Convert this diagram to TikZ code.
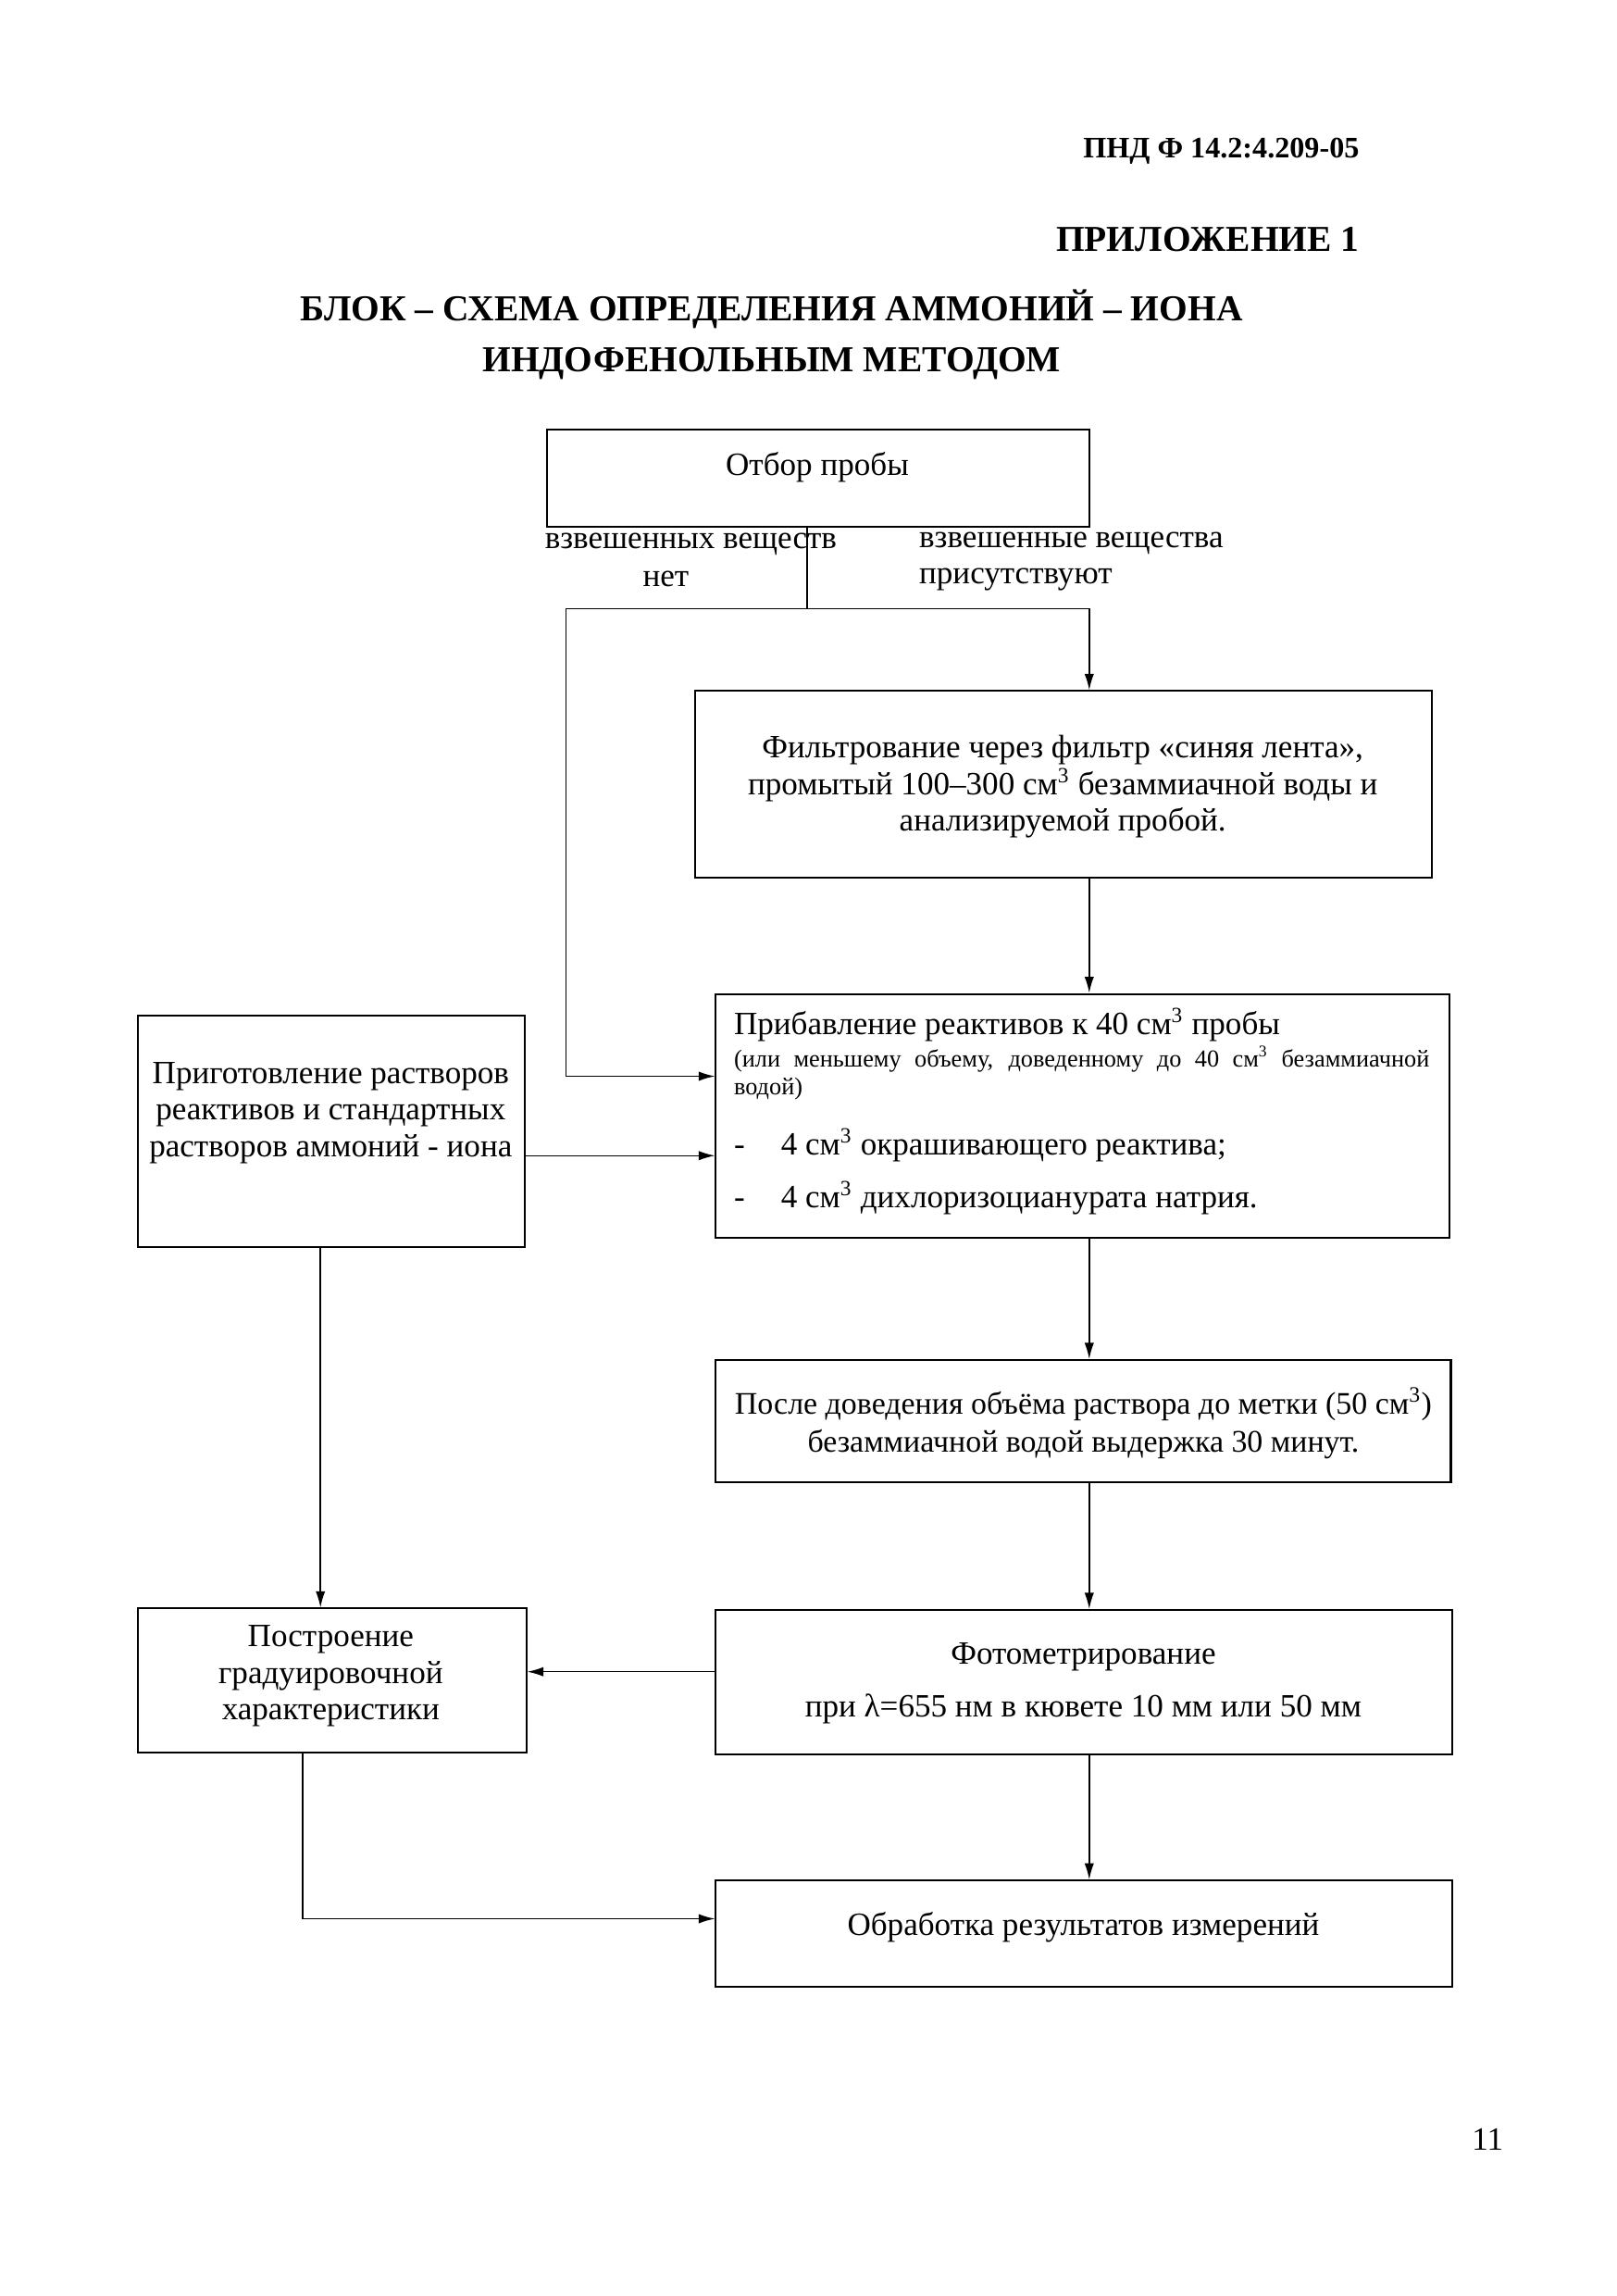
\documentclass[tikz,border=0pt]{standalone}
\usepackage{fontspec}
\setmainfont{Liberation Serif}
\usetikzlibrary{arrows.meta,fit}
\begin{document}
\begin{tikzpicture}[x=0.019091cm,y=-0.019091cm,
  box/.style={draw,line width=0.7pt,inner sep=0pt},
  txt/.style={font=\fontsize{12}{13.5}\selectfont,align=center,inner sep=0pt},
  hdr/.style={font=\bfseries\fontsize{11}{13}\selectfont,inner sep=0pt},
  ttl/.style={font=\bfseries\fontsize{13.5}{16}\selectfont,inner sep=0pt},
  conn/.style={line width=0.5pt},
  arr/.style={conn,-{Latex[length=6pt,width=3.5pt]}}]
\useasboundingbox (0,0) rectangle (1100,1561.6);

% header
\node[hdr,anchor=east] (h1) at (925,103) {ПНД Ф 14.2:4.209-05};
\node[ttl,anchor=east] (h2) at (925,163) {ПРИЛОЖЕНИЕ 1};
\node[ttl] (h3) at (525,210) {БЛОК – СХЕМА ОПРЕДЕЛЕНИЯ АММОНИЙ – ИОНА};
\node[ttl] (h4) at (525,247) {ИНДОФЕНОЛЬНЫМ МЕТОДОМ};

% boxes
\node[box,fit={(372,292)(741,358)}] (b1) {};
\node[box,fit={(473,470)(974,597)}] (b2) {};
\node[box,fit={(487,676)(986,842)}] (b3) {};
\node[box,fit={(94,691)(357,848)}] (bl) {};
\node[box,fit={(487,925)(987,1008)}] (b4) {};
\node[box,fit={(487,1095)(988,1193)}] (b5) {};
\node[box,fit={(94,1094)(358,1192)}] (b6) {};
\node[box,fit={(487,1279)(988,1351)}] (b7) {};

% texts
\node[txt] (t1) at (556,318) {Отбор пробы};
\node[txt] (l1a) at (470,370) {взвешенных веществ};
\node[txt] (l1b) at (453,394) {нет};
\node[txt,align=left,anchor=west] (l2) at (625,382) {взвешенные вещества\\присутствуют};
\node[txt] (t2) at (723,535) {Фильтрование через фильтр «синяя лента»,\\промытый 100–300 см\textsuperscript{3} безаммиачной воды и\\анализируемой пробой.};
\node[txt,anchor=west] (t3a) at (499,697) {Прибавление реактивов к 40 см\textsuperscript{3} пробы};
\node[txt,anchor=north west] (t3b) at (499,711) {\parbox[t]{9.03cm}{\fontsize{9}{10.3}\selectfont (или меньшему объему, доведенному до 40 см\textsuperscript{3} безаммиачной водой)}};
\node[txt,anchor=west] (t3c) at (499,779) {\makebox[0.61cm][l]{-}4 см\textsuperscript{3} окрашивающего реактива;};
\node[txt,anchor=west] (t3d) at (499,815) {\makebox[0.61cm][l]{-}4 см\textsuperscript{3} дихлоризоцианурата натрия.};
\node[txt] (tl) at (225,757) {Приготовление растворов\\реактивов и стандартных\\растворов аммоний - иона};
\node[txt,font=\fontsize{11.6}{14}\selectfont] (t4) at (737,968) {После доведения объёма раствора до метки (50 см\textsuperscript{3})\\безаммиачной водой выдержка 30 минут.};
\node[txt] (t5) at (737,1145) {Фотометрирование\\[6pt]при λ=655 нм в кювете 10 мм или 50 мм};
\node[txt] (t6) at (225,1140) {Построение\\градуировочной\\характеристики};
\node[txt] (t7) at (737,1311) {Обработка результатов измерений};
\node[txt] (pg) at (1012,1455) {11};

% connectors
\coordinate (j) at (549,414);
\coordinate (jl) at (385,414);
\coordinate (jr) at (741,414);
\draw[conn] (j |- b1.south) -- (j);
\draw[conn] (jl) -- (jr);
\draw[arr] (jr) -- (jr |- b2.north);
\coordinate (p1) at (385,732);
\draw[arr] (jl) -- (p1) -- (p1 -| b3.west);
\draw[arr] (jr |- b2.south) -- (jr |- b3.north);
\coordinate (p2) at (357,786);
\draw[arr] (p2 -| bl.east) -- (p2 -| b3.west);
\draw[arr] (jr |- b3.south) -- (jr |- b4.north);
\draw[arr] (jr |- b4.south) -- (jr |- b5.north);
\draw[arr] (jr |- b5.south) -- (jr |- b7.north);
\coordinate (p3) at (218,900);
\draw[arr] (p3 |- bl.south) -- (p3 |- b6.north);
\coordinate (p4) at (420,1137);
\draw[arr] (p4 -| b5.west) -- (p4 -| b6.east);
\coordinate (p5) at (206,1305);
\draw[arr] (p5 |- b6.south) -- (p5) -- (p5 -| b7.west);
\end{tikzpicture}
\end{document}
